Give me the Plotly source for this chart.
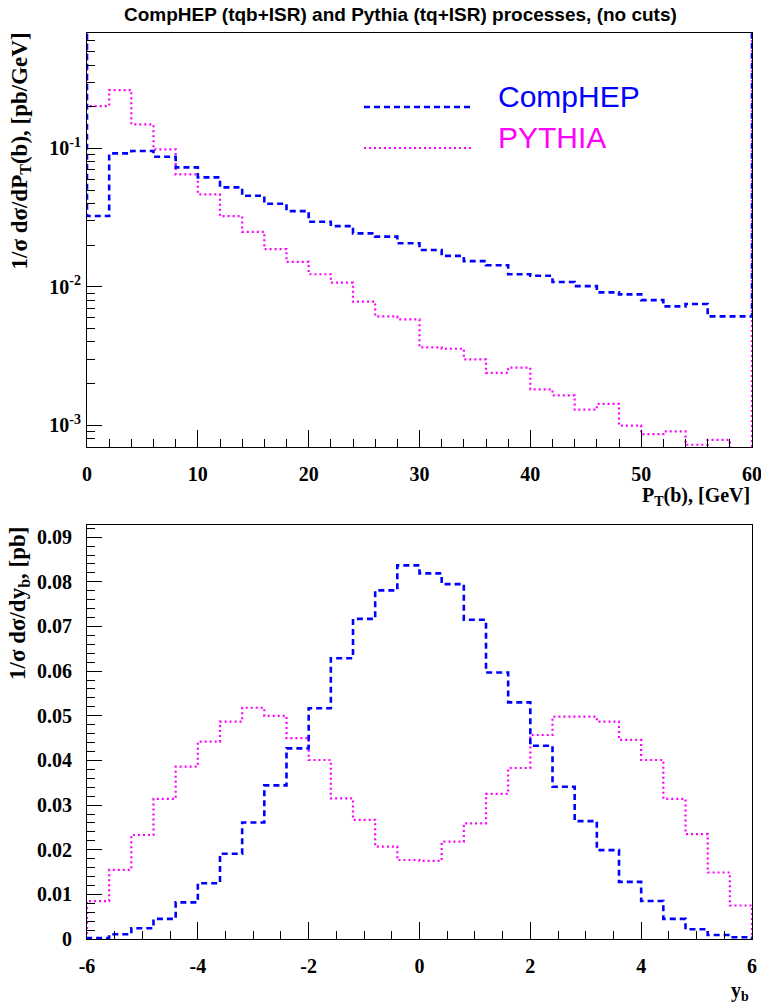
import plotly.graph_objects as go

W, H = 761, 1008

# ---------------- data ----------------
pt_bin_edges = [0, 2, 4, 6, 8, 10, 12, 14, 16, 18, 20, 22, 24, 26, 28, 30,
                32, 34, 36, 38, 40, 42, 44, 46, 48, 50, 52, 54, 56, 58, 60]
pt_comphep = [0.0324, 0.092, 0.0956, 0.087, 0.0729, 0.0617, 0.0522, 0.0454, 0.0398, 0.0352,
              0.0295, 0.0274, 0.0243, 0.0230, 0.0206, 0.0184, 0.0167, 0.0153, 0.0143, 0.0123,
              0.0120, 0.0108, 0.0101, 0.0091, 0.0088, 0.0080, 0.0072, 0.0075, 0.0061, 0.0061]
pt_pythia = [0.202, 0.264, 0.149, 0.0984, 0.0649, 0.0465, 0.0324, 0.0249, 0.0187, 0.0151,
             0.0123, 0.0107, 0.0078, 0.0061, 0.0058, 0.00364, 0.00356, 0.00298, 0.00238, 0.0026,
             0.00181, 0.00164, 0.00129, 0.00142, 0.00099, 0.00086, 0.0009, 0.00072, 0.00078, 0.0006]

y_bin_edges = [-6.0, -5.6, -5.2, -4.8, -4.4, -4.0, -3.6, -3.2, -2.8, -2.4, -2.0, -1.6, -1.2, -0.8, -0.4, 0.0,
               0.4, 0.8, 1.2, 1.6, 2.0, 2.4, 2.8, 3.2, 3.6, 4.0, 4.4, 4.8, 5.2, 5.6, 6.0]
y_comphep = [0.0002, 0.00105, 0.0024, 0.0045, 0.0082, 0.0125, 0.0191, 0.0261, 0.0344, 0.0427,
             0.0517, 0.0629, 0.0717, 0.0781, 0.0837, 0.0819, 0.0795, 0.0715, 0.0597, 0.0530,
             0.0433, 0.0341, 0.0264, 0.0199, 0.0128, 0.0085, 0.0045, 0.0022, 0.0009, 0.0004]
y_pythia = [0.0085, 0.0155, 0.0233, 0.0314, 0.0386, 0.0442, 0.0487, 0.0518, 0.0500, 0.0450,
            0.0401, 0.0315, 0.0267, 0.0207, 0.0177, 0.0175, 0.0218, 0.0259, 0.0325, 0.0383,
            0.0457, 0.0498, 0.0498, 0.0487, 0.0446, 0.0401, 0.0314, 0.0235, 0.0149, 0.0075]

pt_tick_vals = [0, 10, 20, 30, 40, 50, 60]
pt_tick_text = ["0", "10", "20", "30", "40", "50", "60"]
log_tick_vals = [0.001, 0.01, 0.1]
log_tick_text = ["10<sup>-3</sup>", "10<sup>-2</sup>", "10<sup>-1</sup>"]
yb_tick_vals = [-6, -4, -2, 0, 2, 4, 6]
yb_tick_text = ["-6", "-4", "-2", "0", "2", "4", "6"]
dy_tick_vals = [0, 0.01, 0.02, 0.03, 0.04, 0.05, 0.06, 0.07, 0.08, 0.09]
dy_tick_text = ["0", "0.01", "0.02", "0.03", "0.04", "0.05", "0.06", "0.07", "0.08", "0.09"]

pt_range = [0, 60]
pt_logrange = [-3.159, -0.166]
y_range = [-6, 6]
dy_range = [0, 0.0928]

series_names = ["CompHEP", "PYTHIA"]
BLUE = "#0000FF"
MAGENTA = "#FF00FF"


def px(x):
    return x / W


def py(y):
    return 1 - y / H


def step(edges, vals, edge_level):
    xs = [edges[0]] + list(edges[:-1]) + [edges[-1], edges[-1]]
    ys = [edge_level] + list(vals) + [vals[-1], edge_level]
    return xs, ys


fig = go.Figure()

top_level = 10 ** (pt_logrange[1] + 0.5)
dash_blue = dict(color=BLUE, width=2.6, dash="6px,4px")
dot_mag = dict(color=MAGENTA, width=2.2, dash="2px,3px")

for vals, ln, nm in [(pt_pythia, dot_mag, series_names[1]), (pt_comphep, dash_blue, series_names[0])]:
    xs, ys = step(pt_bin_edges, vals, top_level)
    fig.add_trace(go.Scatter(x=xs, y=ys, mode="lines", line=ln, line_shape="hv",
                             name=nm, showlegend=False, xaxis="x", yaxis="y"))

for vals, ln, nm in [(y_pythia, dot_mag, series_names[1]), (y_comphep, dash_blue, series_names[0])]:
    xs, ys = step(y_bin_edges, vals, 0)
    fig.add_trace(go.Scatter(x=xs, y=ys, mode="lines", line=ln, line_shape="hv",
                             name=nm, showlegend=False, xaxis="x2", yaxis="y2"))

tickfont = dict(family="Liberation Serif", size=20, color="black", weight="bold")
common = dict(showgrid=False, zeroline=False, showline=True, linecolor="black", linewidth=1,
              mirror=True, ticks="inside", tickcolor="black", tickfont=tickfont,
              automargin=False, tickmode="array", ticklabeloverflow="allow")

fig.update_layout(
    width=W, height=H, autosize=False,
    margin=dict(l=0, r=0, t=0, b=0, pad=0),
    paper_bgcolor="white", plot_bgcolor="white",
    xaxis=dict(domain=[px(87), px(752)], anchor="y", range=pt_range,
               tickvals=pt_tick_vals, ticktext=pt_tick_text,
               ticklen=17, minor=dict(ticks="inside", ticklen=8, dtick=2, tick0=0, tickcolor="black"),
               ticklabelstandoff=9, **common),
    yaxis=dict(domain=[py(447), py(33)], anchor="x", type="log", range=pt_logrange,
               tickvals=log_tick_vals, ticktext=log_tick_text, ticklen=15,
               minor=dict(ticks="inside", ticklen=8, dtick="D1", tickcolor="black"),
               ticklabelstandoff=1, **common),
    xaxis2=dict(domain=[px(87), px(752)], anchor="y2", range=y_range,
                tickvals=yb_tick_vals, ticktext=yb_tick_text,
                ticklen=17, minor=dict(ticks="inside", ticklen=8, dtick=0.5, tick0=0, tickcolor="black"),
                ticklabelstandoff=9, **common),
    yaxis2=dict(domain=[py(939), py(524.7)], anchor="x2", range=dy_range,
                tickvals=dy_tick_vals, ticktext=dy_tick_text, ticklen=15,
                minor=dict(ticks="inside", ticklen=8, dtick=0.002, tick0=0, tickcolor="black"),
                ticklabelstandoff=10, **common),
)

serif_title = dict(family="Liberation Serif", size=23, color="black", weight="bold")
serif_xtitle = dict(family="Liberation Serif", size=20, color="black", weight="bold")
annotations = [
    dict(text="CompHEP (tqb+ISR) and Pythia (tq+ISR) processes, (no cuts)",
         x=px(400), y=py(15), xanchor="center", yanchor="middle",
         font=dict(family="Liberation Sans", size=19, color="black", weight="bold")),
    dict(text="1/σ dσ/dP<sub>T</sub>(b), [pb/GeV]", textangle=-90,
         x=px(20), y=py(31), xanchor="center", yanchor="top", font=serif_title),
    dict(text="P<sub>T</sub>(b), [GeV]", x=px(752), y=py(496), xanchor="right",
         yanchor="middle", font=serif_xtitle),
    dict(text="1/σ dσ/dy<sub>b</sub>, [pb]", textangle=-90,
         x=px(19), y=py(524), xanchor="center", yanchor="top", font=serif_title),
    dict(text="y<sub>b</sub>", x=px(751), y=py(991), xanchor="right",
         yanchor="middle", font=serif_xtitle),
    dict(text=series_names[0], x=px(496), y=py(97), xanchor="left", yanchor="middle",
         font=dict(family="Liberation Sans", size=30, color=BLUE)),
    dict(text=series_names[1], x=px(496), y=py(138), xanchor="left", yanchor="middle",
         font=dict(family="Liberation Sans", size=30, color=MAGENTA)),
]
for a in annotations:
    a.update(xref="paper", yref="paper", showarrow=False)
fig.update_layout(annotations=annotations)

fig.update_layout(shapes=[
    dict(type="line", xref="paper", yref="paper", x0=px(364), x1=px(473), y0=py(107), y1=py(107),
         line=dash_blue),
    dict(type="line", xref="paper", yref="paper", x0=px(364), x1=px(473), y0=py(148), y1=py(148),
         line=dot_mag),
])

fig.write_html("out.html")
